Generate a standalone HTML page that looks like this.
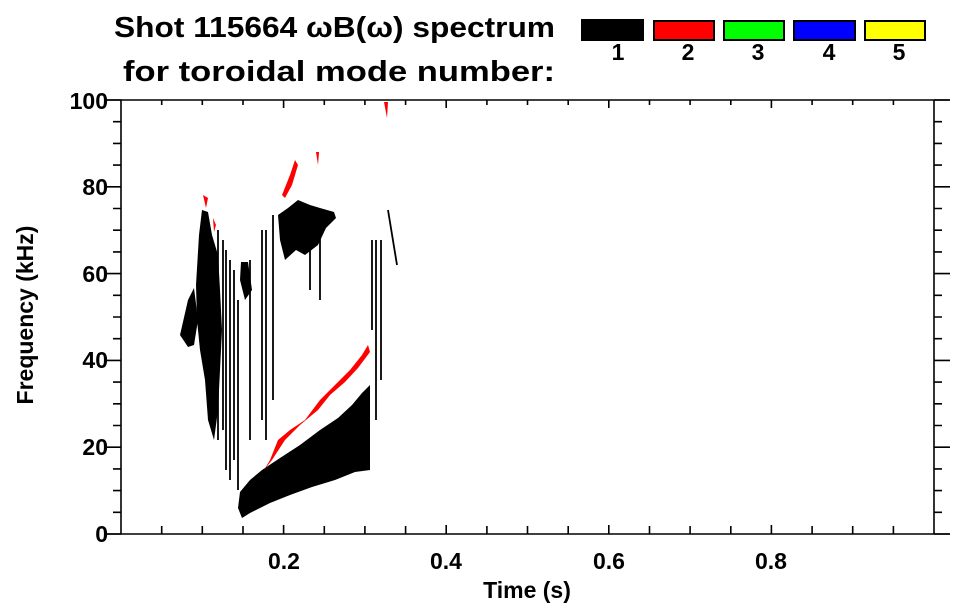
<!DOCTYPE html>
<html><head><meta charset="utf-8"><style>
html,body{margin:0;padding:0;background:#fff;}
svg{display:block;font-family:"Liberation Sans",sans-serif;font-weight:bold;}
</style></head><body>
<svg width="963" height="615" viewBox="0 0 963 615" xmlns="http://www.w3.org/2000/svg">
<text x="114" y="37" font-size="29" textLength="441" lengthAdjust="spacingAndGlyphs">Shot 115664 ωB(ω) spectrum</text>
<text x="123" y="81" font-size="29" textLength="432" lengthAdjust="spacingAndGlyphs">for toroidal mode number:</text>
<g stroke="#000" stroke-width="2">
<rect x="582" y="20" width="61" height="20" fill="#000"/>
<rect x="654" y="21" width="60" height="19" fill="#f00"/>
<rect x="724" y="21" width="60" height="19" fill="#0f0"/>
<rect x="794" y="21" width="61" height="19" fill="#00f"/>
<rect x="865" y="21" width="60" height="19" fill="#ff0"/>
</g>
<g font-size="23" text-anchor="middle">
<text x="618" y="60">1</text><text x="688" y="60">2</text><text x="758" y="60">3</text><text x="829" y="60">4</text><text x="899" y="60">5</text>
</g>
<!-- data -->
<g fill="#000">
<polygon points="240,492 250,480 262,470 280,458 300,445 320,430 338,418 352,405 362,393 370,385 370,470 355,472 335,480 312,487 290,495 270,503 250,513 242,518 238,508"/>
<polygon points="199,235 202,210 208,212 212,235 218,255 220,290 222,330 220,370 218,410 214,440 208,420 205,380 200,350 197,320 196,285"/>
<polygon points="180,335 188,300 194,288 198,320 194,345 188,347"/>
<polygon points="278,215 288,208 298,200 310,205 320,208 334,212 336,218 326,228 318,245 305,255 296,250 285,260 280,240"/>
<polygon points="241,262 248,262 252,290 245,300 240,280"/>
<polygon points="352,420 362,410 368,430 360,440"/>
</g>
<g stroke="#000" stroke-width="1.8" fill="none">
<line x1="218" y1="230" x2="218" y2="440"/>
<line x1="223" y1="240" x2="223" y2="430"/>
<line x1="226" y1="250" x2="226" y2="470"/>
<line x1="230" y1="260" x2="230" y2="480"/>
<line x1="234" y1="270" x2="234" y2="460"/>
<line x1="238" y1="300" x2="238" y2="490"/>
<line x1="250" y1="260" x2="250" y2="440"/>
<line x1="262" y1="230" x2="262" y2="420"/>
<line x1="266" y1="230" x2="266" y2="440"/>
<line x1="273" y1="215" x2="273" y2="400"/>
<line x1="372" y1="240" x2="372" y2="330"/>
<line x1="376" y1="240" x2="376" y2="420"/>
<line x1="381" y1="240" x2="381" y2="380"/>
<line x1="388" y1="210" x2="397" y2="265"/>
<line x1="310" y1="250" x2="310" y2="290"/>
<line x1="320" y1="230" x2="320" y2="300"/>
</g>
<g fill="#f00">
<polygon points="264,470 270,460 278,440 290,430 305,420 320,400 335,385 350,370 362,355 368,345 370,352 358,368 345,382 330,395 318,410 300,425 285,440 272,460"/>
<polygon points="282,195 290,175 295,160 298,165 292,185 285,198"/>
<polygon points="316,152 319,152 318,165"/>
<polygon points="384,102 388,102 387,118"/>
<polygon points="203,195 208,198 206,208"/>
<polygon points="213,218 216,225 214,232"/>
</g>
<!-- axes -->
<g stroke="#000" stroke-width="1.6" fill="none">
<line x1="105" y1="100" x2="950" y2="100"/>
<line x1="105" y1="534" x2="950" y2="534"/>
<line x1="121" y1="100" x2="121" y2="534"/>
<line x1="934" y1="100" x2="934" y2="534"/>
<path d="M105 534h16M113 512.3h8M113 490.6h8M113 468.9h8M105 447.2h16M113 425.5h8M113 403.8h8M113 382.1h8M105 360.4h16M113 338.7h8M113 317h8M113 295.3h8M105 273.6h16M113 251.9h8M113 230.2h8M113 208.5h8M105 186.8h16M113 165.1h8M113 143.4h8M113 121.7h8M105 100h16"/>
<path d="M934 534h16M934 512.3h8M934 490.6h8M934 468.9h8M934 447.2h16M934 425.5h8M934 403.8h8M934 382.1h8M934 360.4h16M934 338.7h8M934 317h8M934 295.3h8M934 273.6h16M934 251.9h8M934 230.2h8M934 208.5h8M934 186.8h16M934 165.1h8M934 143.4h8M934 121.7h8M934 100h16"/>
<path d="M161.7 100v5M202.3 100v5M243 100v5M283.6 100v8M324.3 100v5M364.9 100v5M405.6 100v5M446.2 100v8M486.9 100v5M527.5 100v5M568.2 100v5M608.8 100v8M649.5 100v5M690.1 100v5M730.8 100v5M771.4 100v8M812.1 100v5M852.7 100v5M893.4 100v5"/>
<path d="M161.7 534v-8M202.3 534v-8M243 534v-8M283.6 534v-9M324.3 534v-8M364.9 534v-8M405.6 534v-8M446.2 534v-9M486.9 534v-8M527.5 534v-8M568.2 534v-8M608.8 534v-9M649.5 534v-8M690.1 534v-8M730.8 534v-8M771.4 534v-9M812.1 534v-8M852.7 534v-8M893.4 534v-8"/>
</g>
<g font-size="23" text-anchor="end">
<text x="108" y="542">0</text><text x="108" y="455">20</text><text x="108" y="368">40</text><text x="108" y="282">60</text><text x="108" y="195">80</text><text x="108" y="109">100</text>
</g>
<g font-size="23" text-anchor="middle">
<text x="284" y="569">0.2</text><text x="446" y="569">0.4</text><text x="609" y="569">0.6</text><text x="771" y="569">0.8</text>
<text x="527" y="598">Time (s)</text>
</g>
<text transform="translate(33,315) rotate(-90)" font-size="23" text-anchor="middle">Frequency (kHz)</text>
</svg>
</body></html>
